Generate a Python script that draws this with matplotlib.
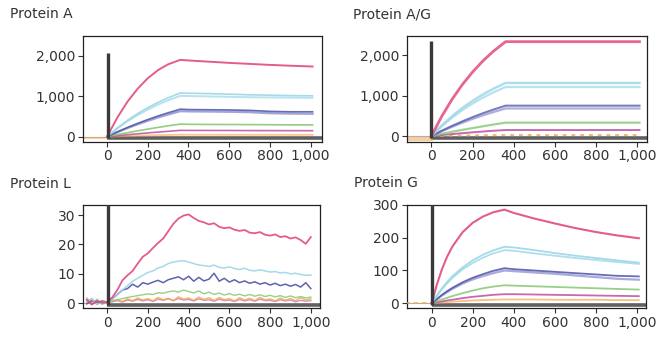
import matplotlib
matplotlib.use("Agg")
import matplotlib.pyplot as plt
import numpy as np

plt.rcParams['font.family'] = ['DejaVu Sans']

# ---------------- data ----------------
titles = ["Protein A", "Protein A/G", "Protein L", "Protein G"]
x_ticks = [0, 200, 400, 600, 800, 1000]
x_tick_labels = ["0", "200", "400", "600", "800", "1,000"]

# Protein A and Protein A/G share a time grid
t_ab = [0, 50, 100, 150, 200, 250, 300, 360, 400, 500, 600, 700, 800, 900, 1010]

a_pink = [0, 470, 865, 1185, 1445, 1645, 1790, 1900, 1885, 1855, 1825, 1800, 1775, 1755, 1735]
a_lblue1 = [0, 215, 403, 570, 716, 847, 961, 1080, 1075, 1065, 1050, 1035, 1025, 1015, 1010]
a_lblue2 = [0, 201, 377, 533, 670, 792, 899, 1010, 1005, 995, 985, 975, 970, 965, 960]
a_dblue1 = [0, 118, 227, 328, 422, 510, 590, 680, 670, 665, 660, 650, 625, 615, 615]
a_dblue2 = [0, 109, 210, 304, 391, 473, 547, 630, 625, 620, 615, 605, 580, 570, 565]
a_green = [0, 52, 98, 143, 187, 228, 268, 310, 305, 302, 300, 298, 295, 292, 290]
a_magenta = [0, 25, 48, 70, 92, 112, 132, 155, 154, 153, 152, 150, 149, 148, 147]
a_orange = [0, 8, 16, 24, 30, 36, 42, 48, 48, 47, 47, 46, 46, 45, 45]

ag_pink = [0, 485, 906, 1270, 1582, 1855, 2090, 2330, 2330, 2330, 2330, 2330, 2330, 2330, 2330]
ag_lblue1 = [0, 261, 489, 692, 869, 1027, 1166, 1310, 1310, 1310, 1310, 1310, 1310, 1310, 1310]
ag_lblue2 = [0, 241, 451, 639, 802, 949, 1077, 1210, 1210, 1210, 1210, 1210, 1210, 1210, 1210]
ag_dblue1 = [0, 130, 250, 362, 466, 563, 651, 750, 750, 750, 750, 750, 750, 750, 750]
ag_dblue2 = [0, 118, 227, 328, 422, 510, 590, 680, 680, 680, 680, 680, 680, 680, 680]
ag_green = [0, 55, 105, 152, 197, 240, 283, 330, 330, 330, 330, 330, 330, 330, 330]
ag_magenta = [0, 25, 48, 70, 92, 112, 130, 148, 148, 148, 148, 148, 148, 148, 148]
ag_orange = [0, 5, 10, 15, 18, 20, 22, 25, 25, 25, 25, 25, 25, 25, 25]

# Protein G
t_g = [0, 25, 50, 75, 100, 150, 200, 250, 300, 355, 400, 500, 600, 700, 800, 900, 1010]
g_pink = [0, 57, 104, 142, 172, 216, 245, 264, 277, 285, 275, 258, 243, 229, 217, 207, 198]
g_lblue1 = [0, 24, 46, 65, 82, 109, 131, 148, 161, 172, 170, 162, 153, 145, 138, 131, 124]
g_lblue2 = [0, 23, 43, 61, 77, 103, 123, 139, 152, 162, 160, 152, 145, 138, 132, 126, 120]
g_dblue1 = [0, 13, 26, 37, 47, 64, 78, 89, 99, 107, 104, 100, 96, 92, 88, 84, 82]
g_dblue2 = [0, 12, 24, 34, 44, 60, 73, 83, 92, 100, 98, 94, 90, 85, 80, 75, 72]
g_green = [0, 6, 12, 17, 22, 31, 39, 46, 51, 55, 54, 52, 50, 48, 46, 44, 42]
g_magenta = [0, 3, 6, 9, 11, 16, 20, 23, 26, 28, 28, 27, 26, 25, 24, 23, 22]
g_orange = [0, 1, 3, 4, 5, 7, 9, 10, 11, 12, 12, 12, 11, 11, 11, 10, 10]

# Protein L (noisy traces), t = -100 ... 1000 every 25 s
t_l = list(range(-100, 1001, 25))
l_pink = [1.2, -0.4, 0.8, 0.2] + [
    0.5, 2.0, 4.5, 7.8, 9.5, 11.0, 13.5, 15.8, 17.0, 18.8, 20.5, 22.0, 24.5, 27.0,
    28.8, 29.8, 30.2, 29.0, 28.0, 27.5, 26.8, 27.2, 26.0, 25.5, 25.8, 25.0, 24.6,
    24.9, 24.0, 23.8, 24.2, 23.3, 23.0, 23.4, 22.5, 22.8, 22.0, 22.4, 21.5, 20.2, 22.5]
l_lblue = [0.6, 1.5, -0.3, 0.4] + [
    0.5, 1.5, 3.0, 4.5, 6.0, 7.5, 8.5, 9.5, 10.5, 11.0, 12.0, 12.5, 13.5, 14.0, 14.3,
    14.5, 14.0, 13.5, 13.0, 12.8, 12.5, 13.0, 12.2, 12.0, 12.4, 11.8, 11.5, 11.9,
    11.2, 11.0, 11.4, 11.0, 10.6, 10.8, 10.3, 10.5, 10.0, 10.2, 9.8, 9.5, 9.6]
l_dblue = [-0.2, 0.9, 0.3, 0.7] + [
    0.5, 1.5, 3.0, 4.5, 5.0, 6.5, 5.5, 7.0, 6.5, 7.2, 7.8, 7.0, 8.0, 8.5, 9.0, 8.0,
    9.2, 7.5, 8.8, 7.6, 8.2, 10.2, 7.5, 8.5, 7.2, 8.0, 7.0, 7.6, 6.8, 7.3, 6.5, 7.0,
    6.2, 6.8, 6.0, 6.5, 5.8, 6.4, 5.5, 7.0, 5.0]
l_green = [0.9, -0.5, 1.4, -0.2] + [
    0.3, 0.8, 1.2, 1.6, 2.0, 2.3, 2.6, 2.9, 3.2, 3.0, 3.6, 3.4, 3.9, 4.2, 3.8, 4.5,
    4.0, 3.5, 4.2, 3.2, 3.8, 3.0, 3.5, 2.8, 3.3, 2.7, 3.1, 2.5, 3.0, 2.4, 2.9, 2.3,
    2.7, 2.2, 2.6, 2.0, 2.5, 1.9, 2.3, 1.8, 2.1]
l_orange = [1.8, 0.2, 1.0, -0.3] + [
    0.5, 0.8, 1.2, 0.6, 1.5, 0.9, 1.8, 1.1, 1.6, 0.8, 2.0, 1.2, 1.7, 0.9, 2.2, 1.4,
    1.8, 1.0, 2.1, 1.3, 1.9, 0.9, 2.0, 1.2, 1.6, 0.8, 1.9, 1.1, 1.7, 0.9, 2.0, 1.2,
    1.5, 0.8, 1.8, 1.0, 1.6, 0.9, 1.9, 1.1, 1.5]
l_magenta = [0.4, 1.6, -0.4, 0.9] + [
    0.2, 0.5, 0.9, 0.4, 1.1, 0.7, 1.3, 0.8, 1.2, 0.6, 1.4, 1.0, 1.5, 0.9, 1.6, 1.1,
    1.3, 0.8, 1.5, 1.0, 1.2, 0.7, 1.4, 0.9, 1.1, 0.6, 1.3, 0.8, 1.2, 0.7, 1.4, 0.9,
    1.0, 0.6, 1.2, 0.8, 1.1, 0.5, 1.0, 0.7, 0.9]

# injection spike (time, top value) and baseline level per panel
spike_t = [6, 0, 5, 2]
spike_top = [2080, 2350, 40, 400]
base_level = [-45, -60, -0.7, -6]
base_t = [0, 1100]
pre_t = [-130, 0]

# axis settings per panel
y_ticks = [[0, 1000, 2000], [0, 1000, 2000], [0, 10, 20, 30], [0, 100, 200, 300]]
y_tick_labels = [["0", "1,000", "2,000"], ["0", "1,000", "2,000"],
                 ["0", "10", "20", "30"], ["0", "100", "200", "300"]]
y_lims = [(-125, 2490), (-140, 2470), (-1.6, 33.5), (-14, 300)]
x_lims = [(-120, 1055), (-120, 1045), (-120, 1045), (-122, 1045)]

# ---------------- styling ----------------
C_PINK = '#e24a7e'
C_LBLUE = '#9ad6e8'
C_DBLUE = '#4d52a8'
C_DBLUE2 = '#8a8ed0'
C_GREEN = '#86c873'
C_MAG = '#b8449f'
C_ORANGE = '#f3a64c'
C_SPIKE = '#3a3a3a'
C_BASE = '#606060'
TXT = '#333333'

fig = plt.figure(figsize=(6.70, 3.39), dpi=100)
W, H = 670, 339
boxes = [(82.7, 36, 321.7, 141.7), (406.7, 36, 646.7, 141.7),
         (82.7, 204.7, 320, 308), (406.7, 204.7, 646, 308)]
title_pos = [(10, 14), (353, 14), (10, 184), (354, 183)]

axes = []
for i, (x0, y0, x1, y1) in enumerate(boxes):
    ax = fig.add_axes([x0 / W, 1 - y1 / H, (x1 - x0) / W, (y1 - y0) / H])
    axes.append(ax)
    fig.text(title_pos[i][0] / W, 1 - title_pos[i][1] / H, titles[i],
             fontsize=10, color=TXT, va='center', ha='left')


def common(ax, i):
    ax.set_xlim(*x_lims[i])
    ax.set_ylim(*y_lims[i])
    ax.set_xticks(x_ticks)
    ax.set_xticklabels(x_tick_labels)
    ax.set_yticks(y_ticks[i])
    ax.set_yticklabels(y_tick_labels[i])
    ax.tick_params(direction='out', length=3.5, width=0.8, colors=TXT,
                   labelsize=10, pad=2)
    for s in ax.spines.values():
        s.set_color('#222222')
        s.set_linewidth(0.9)
    # baseline and injection spike
    ax.plot(pre_t, [0, 0], color='#b0b0b0', lw=0.8, zorder=1)
    ax.plot(base_t, [base_level[i]] * 2, color=C_BASE, lw=2.6, zorder=2,
            solid_capstyle='butt')
    ax.plot([spike_t[i]] * 2, [base_level[i], spike_top[i]], color=C_SPIKE,
            lw=2.4, zorder=6, solid_capstyle='butt')


# Protein A
ax = axes[0]
common(ax, 0)
ax.plot(pre_t, [-40, -40], color=C_ORANGE, lw=1.5, alpha=0.5)
for y, c, lw, al in [(a_orange, C_ORANGE, 1.4, 0.6), (a_magenta, C_MAG, 1.2, 0.8),
                     (a_green, C_GREEN, 1.2, 0.9), (a_dblue2, C_DBLUE2, 1.6, 0.8),
                     (a_dblue1, C_DBLUE, 1.2, 0.85), (a_lblue2, C_LBLUE, 1.4, 0.7),
                     (a_lblue1, C_LBLUE, 1.2, 0.9), (a_pink, C_PINK, 1.4, 0.9)]:
    ax.plot(t_ab, y, color=c, lw=lw, alpha=al, zorder=3)

# Protein A/G
ax = axes[1]
common(ax, 1)
ax.plot(pre_t, [-70, -70], color=C_ORANGE, lw=3, alpha=0.55, zorder=2)
ax.plot(t_ab, ag_orange, color=C_ORANGE, lw=1.4, alpha=0.8, ls=(0, (2, 2.5)), zorder=3)
for y, c, lw, al in [(ag_magenta, C_MAG, 1.4, 0.8), (ag_green, C_GREEN, 1.6, 0.8),
                     (ag_dblue2, C_DBLUE2, 1.6, 0.7), (ag_dblue1, C_DBLUE, 1.5, 0.75),
                     (ag_lblue2, C_LBLUE, 1.6, 0.7), (ag_lblue1, C_LBLUE, 1.8, 0.8),
                     (ag_pink, C_PINK, 2.0, 0.85)]:
    ax.plot(t_ab, y, color=c, lw=lw, alpha=al, zorder=3)

# Protein L
ax = axes[2]
common(ax, 2)
for y, c, lw, al in [(l_magenta, C_MAG, 1.0, 0.6), (l_orange, C_ORANGE, 1.1, 0.8),
                     (l_green, C_GREEN, 1.0, 0.85), (l_dblue, C_DBLUE, 1.1, 0.9),
                     (l_lblue, C_LBLUE, 1.1, 0.9), (l_pink, C_PINK, 1.3, 0.9)]:
    ax.plot(t_l, y, color=c, lw=lw, alpha=al, zorder=3)

# Protein G
ax = axes[3]
common(ax, 3)
ax.plot(pre_t, [0, 0], color=C_ORANGE, lw=1.2, alpha=0.8, ls=(0, (3, 2)), zorder=3)
for y, c, lw, al in [(g_orange, C_ORANGE, 1.3, 0.7), (g_magenta, C_MAG, 1.3, 0.8),
                     (g_green, C_GREEN, 1.3, 0.85), (g_dblue2, C_DBLUE2, 1.6, 0.75),
                     (g_dblue1, C_DBLUE, 1.3, 0.85), (g_lblue2, C_LBLUE, 1.3, 0.8),
                     (g_lblue1, C_LBLUE, 1.3, 0.9), (g_pink, C_PINK, 1.5, 0.9)]:
    ax.plot(t_g, y, color=c, lw=lw, alpha=al, zorder=3)

fig.savefig("out.png", dpi=100)
